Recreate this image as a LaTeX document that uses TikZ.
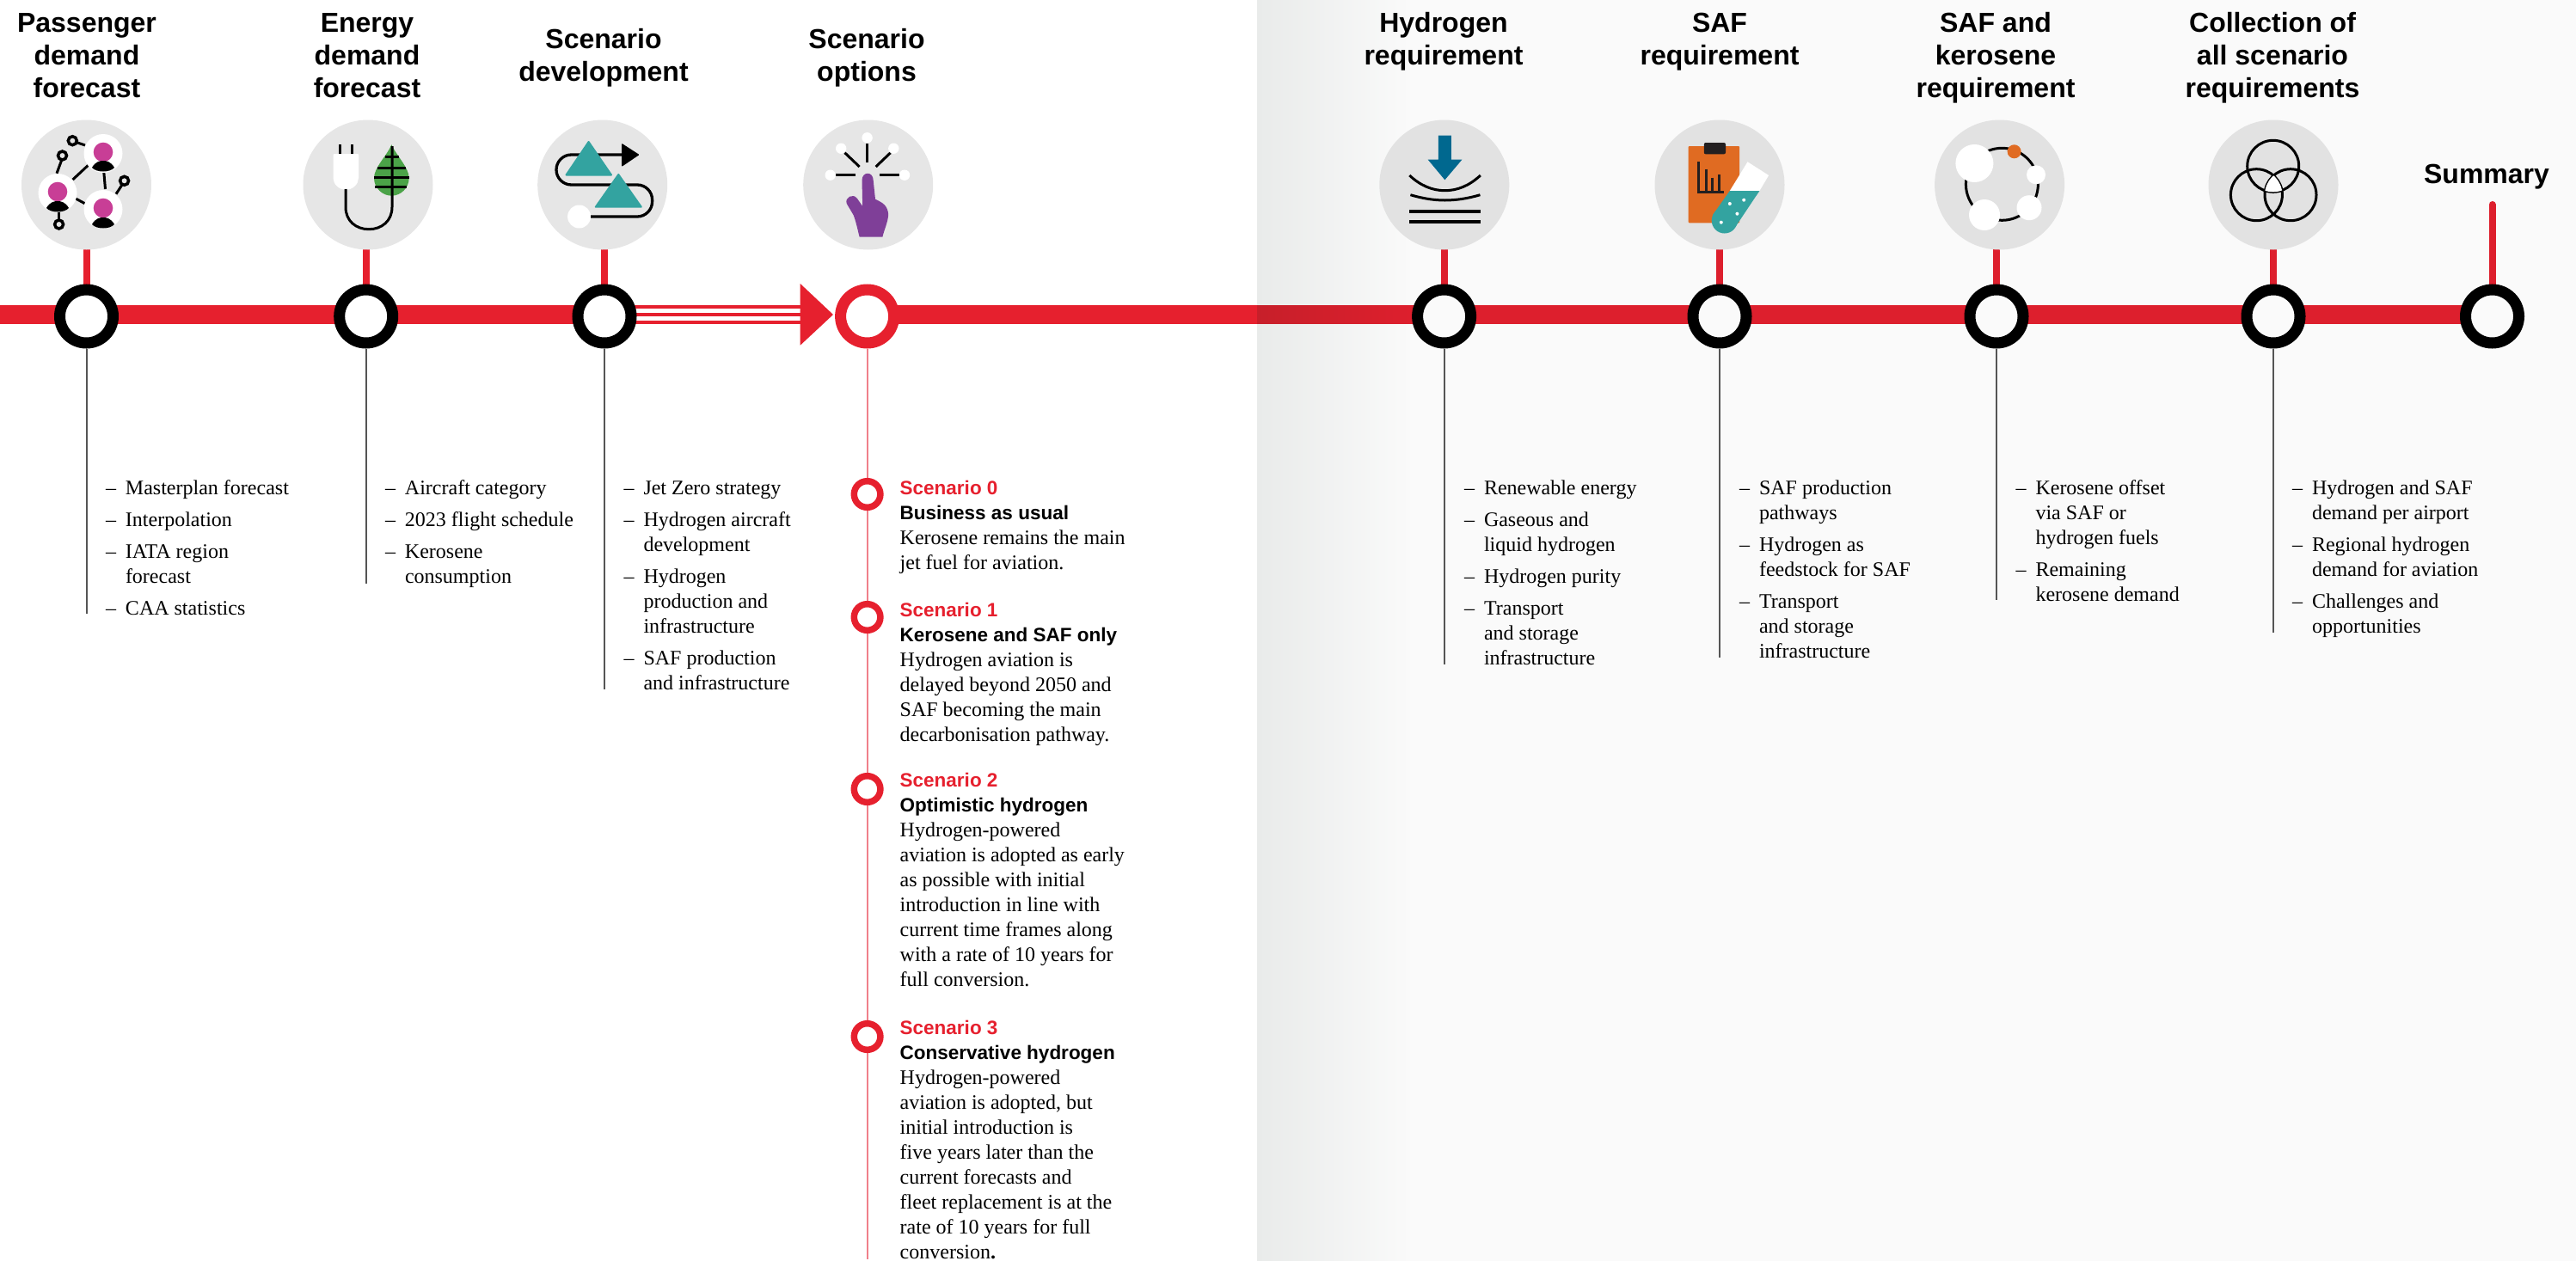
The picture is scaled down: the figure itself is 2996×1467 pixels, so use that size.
\documentclass[tikz,border=0pt]{standalone}
\usepackage{fontspec}
\setmainfont{Liberation Serif}
\setsansfont{Liberation Sans}
\usetikzlibrary{backgrounds}
\definecolor{barred}{HTML}{E6202E}
\definecolor{barredR}{HTML}{DD1F2D}
\definecolor{barredD}{HTML}{C71F2A}
\definecolor{linered}{HTML}{F0808A}
\definecolor{pale}{HTML}{FAFAFA}
\definecolor{paleL}{HTML}{E9EBEA}
\definecolor{iconL}{HTML}{E6E6E6}
\definecolor{iconR}{HTML}{E2E2E2}
\definecolor{pinkp}{HTML}{C83E96}
\definecolor{leafg}{HTML}{4BA348}
\definecolor{tealc}{HTML}{33A3A0}
\definecolor{purp}{HTML}{7F3F98}
\definecolor{bluea}{HTML}{00688F}
\definecolor{orangec}{HTML}{E06B22}
\definecolor{darkc}{HTML}{231F20}
\definecolor{greyl}{HTML}{555555}
\newcommand{\hdfont}{\sffamily\bfseries\fontsize{32}{38}\selectfont}
\newcommand{\bdfont}{\rmfamily\fontsize{24}{29}\selectfont}
\newcommand{\scfont}{\sffamily\bfseries\fontsize{22.5}{29}\selectfont}
\newcommand{\headtext}[1]{\parbox[t]{420pt}{\centering\hdfont #1\par}}
\newcommand{\itm}[1]{\par\hangindent=23pt\hangafter=1\noindent\makebox[23pt][l]{–}#1}
\newcommand{\itemlist}[1]{\parbox[t]{300pt}{\bdfont\setlength{\parskip}{8pt}\raggedright #1\par}}
\newcommand{\scentext}[3]{\parbox[t]{330pt}{\bdfont\raggedright{\scfont\textcolor{barred}{#1}}\newline{\scfont #2}\newline #3\par}}
\newcommand{\person}[3]{% head x, head y, body top y
  \fill[white] (#1,#2+1.5) circle[radius=22.5pt];
  \fill[pinkp] (#1,#2) circle[radius=11.3pt];
  \fill[black] (#1-13,#3+8) .. controls (#1-9,#3+1) and (#1-4,#3) .. (#1,#3)
     .. controls (#1+4,#3) and (#1+9,#3+1) .. (#1+13,#3+8)
     .. controls (#1+8,#3+14) and (#1-8,#3+14) .. cycle;}
\tikzset{
  icon/.style={circle,minimum size=151pt,inner sep=0pt,fill=#1},
  ringk/.style={circle,minimum size=62pt,inner sep=0pt,line width=13pt,draw=black,fill=#1},
  ringr/.style={circle,minimum size=62pt,inner sep=0pt,line width=13pt,draw=barred,fill=white},
  sring/.style={circle,minimum size=30.6pt,inner sep=0pt,line width=7.5pt,draw=barred,fill=white},
  txt/.style={inner sep=0pt,outer sep=0pt,anchor=base west},
  hd/.style={inner sep=0pt,outer sep=0pt,anchor=base},
  stem/.style={line width=8pt,barred},
  stemR/.style={line width=8pt,barredR},
  drop/.style={line width=2pt,greyl},
  icl/.style={line width=3pt,black},
}
\begin{document}
\begin{tikzpicture}[x=1pt,y=-1pt]
\useasboundingbox (0,0) rectangle (2996,1467);
% rings
\node[ringk=white] (r1) at (100.5,368) {};
\node[ringk=white] (r2) at (425.7,368) {};
\node[ringk=white] (r3) at (703,368) {};
\node[ringr] (r4) at (1008.6,368) {};
\node[ringk=pale] (r5) at (1679.6,368) {};
\node[ringk=pale] (r6) at (2000,368) {};
\node[ringk=pale] (r7) at (2322,368) {};
\node[ringk=pale] (r8) at (2644,368) {};
\node[ringk=pale] (r9) at (2898.5,368) {};
% icon discs
\node[icon=iconL] (c1) at (100.5,215) {};
\node[icon=iconL] (c2) at (428,215) {};
\node[icon=iconL] (c3) at (700.7,215) {};
\node[icon=iconL] (c4) at (1009.7,215) {};
\node[icon=iconR] (c5) at (1679.8,215) {};
\node[icon=iconR] (c6) at (2000,215) {};
\node[icon=iconR] (c7) at (2325.6,215) {};
\node[icon=iconR] (c8) at (2644,215) {};
% free ends
\coordinate (barL) at (0,366);
\coordinate (sumtop) at (2898.5,238);
\coordinate (e1) at (100.5,714);
\coordinate (e2) at (425.7,679);
\coordinate (e3) at (703,802);
\coordinate (e4) at (1008.6,1465);
\coordinate (e5) at (1679.6,773);
\coordinate (e6) at (2000,765);
\coordinate (e7) at (2322,698);
\coordinate (e8) at (2644,736);
% scenario rings
\node[sring] (s0) at (1008.6,575) {};
\node[sring] (s1) at (1008.6,718) {};
\node[sring] (s2) at (1008.6,918) {};
\node[sring] (s3) at (1008.6,1206) {};
% arrow
\node[fill=none,inner sep=0pt] (arrowtip) at (969,366) {};
\begin{scope}[on background layer]
  \fill[pale] (1462,0) rectangle (2996,1467);
  \shade[left color=paleL,right color=pale] (1462,0) rectangle (1640,1467);
  \draw[line width=21.7pt,barred] (barL) -- (barL -| r3);
  \draw[line width=21.7pt,barred] (barL -| r4) -- (1462,366);
  \draw[line width=21.7pt,barredR] (1462,366) -- (barL -| r9);
  \shade[left color=barredD,right color=barredR] (1462,355.15) rectangle (1640,376.85);
  \foreach \yy in {356.8,366,375}
    \draw[line width=3.7pt,barred] (703,\yy) -- (935,\yy);
  \draw[stem] (r1) -- (r1 |- c1);
  \draw[stem] (r2) -- (r2 |- c2);
  \draw[stem] (r3) -- (r3 |- c3);
  \draw[stemR] (r5) -- (r5 |- c5);
  \draw[stemR] (r6) -- (r6 |- c6);
  \draw[stemR] (r7) -- (r7 |- c7);
  \draw[stemR] (r8) -- (r8 |- c8);
  \draw[stemR,line cap=round] (r9) -- (sumtop);
  \draw[drop] (r1) -- (e1);
  \draw[drop] (r2) -- (e2);
  \draw[drop] (r3) -- (e3);
  \draw[line width=2.2pt,linered] (r4) -- (e4);
  \draw[drop] (r5) -- (e5);
  \draw[drop] (r6) -- (e6);
  \draw[drop] (r7) -- (e7);
  \draw[drop] (r8) -- (e8);
\end{scope}
\fill[barred] (930.7,330) -- (arrowtip.center) -- (930.7,401.7) -- cycle;
% headings
\node[hd] (h1) at (101,37) {\headtext{Passenger\\demand\\forecast}};
\node[hd] (h2) at (427,37) {\headtext{Energy\\demand\\forecast}};
\node[hd] (h3) at (702,56.5) {\headtext{Scenario\\development}};
\node[hd] (h4) at (1008,56.5) {\headtext{Scenario\\options}};
\node[hd] (h5) at (1679,37) {\headtext{Hydrogen\\requirement}};
\node[hd] (h6) at (2000,37) {\headtext{SAF\\requirement}};
\node[hd] (h7) at (2321,37) {\headtext{SAF and\\kerosene\\requirement}};
\node[hd] (h8) at (2643,37) {\headtext{Collection of\\all scenario\\requirements}};
\node[hd] (h9) at (2892,213.5) {\headtext{Summary}};
% item lists
\node[txt] (l1) at (123,575) {\itemlist{\itm{Masterplan forecast}\itm{Interpolation}\itm{IATA region\newline forecast}\itm{CAA statistics}}};
\node[txt] (l2) at (448,575) {\itemlist{\itm{Aircraft category}\itm{2023 flight schedule}\itm{Kerosene\newline consumption}}};
\node[txt] (l3) at (725.5,575) {\itemlist{\itm{Jet Zero strategy}\itm{Hydrogen aircraft\newline development}\itm{Hydrogen\newline production and\newline infrastructure}\itm{SAF production\newline and infrastructure}}};
\node[txt] (l5) at (1703,575) {\itemlist{\itm{Renewable energy}\itm{Gaseous and\newline liquid hydrogen}\itm{Hydrogen purity}\itm{Transport\newline and storage\newline infrastructure}}};
\node[txt] (l6) at (2023,575) {\itemlist{\itm{SAF production\newline pathways}\itm{Hydrogen as\newline feedstock for SAF}\itm{Transport\newline and storage\newline infrastructure}}};
\node[txt] (l7) at (2344.5,575) {\itemlist{\itm{Kerosene offset\newline via SAF or\newline hydrogen fuels}\itm{Remaining\newline kerosene demand}}};
\node[txt] (l8) at (2666,575) {\itemlist{\itm{Hydrogen and SAF\newline demand per airport}\itm{Regional hydrogen\newline demand for aviation}\itm{Challenges and\newline opportunities}}};
% scenarios
\node[txt] (t0) at (1046.7,575) {\scentext{Scenario 0}{Business as usual}{Kerosene remains the main\newline jet fuel for aviation.}};
\node[txt] (t1) at (1046.7,717) {\scentext{Scenario 1}{Kerosene and SAF only}{Hydrogen aviation is\newline delayed beyond 2050 and\newline SAF becoming the main\newline decarbonisation pathway.}};
\node[txt] (t2) at (1046.7,915) {\scentext{Scenario 2}{Optimistic hydrogen}{Hydrogen-powered\newline aviation is adopted as early\newline as possible with initial\newline introduction in line with\newline current time frames along\newline with a rate of 10 years for\newline full conversion.}};
\node[txt] (t3) at (1046.7,1203.5) {\scentext{Scenario 3}{Conservative hydrogen}{Hydrogen-powered\newline aviation is adopted, but\newline initial introduction is\newline five years later than the\newline current forecasts and\newline fleet replacement is at the\newline rate of 10 years for full\newline conversion\textbf{.}}};
% icon 1: people network
\begin{scope}[line width=3pt,black]
  \draw (66,201.7) -- (71.4,187);
  \draw (84.6,209) -- (102.5,192.3);
  \draw (120.7,199) -- (122.5,220);
  \draw (88,231) -- (98.6,236.7);
  \draw (135,225.7) -- (142,215);
  \draw (99,169) -- (89.3,165.7);
  \draw (68.6,255) -- (68.6,246.7);
  \draw[line width=3.5pt] (72.5,181) circle[radius=5pt];
  \draw[line width=3.5pt] (144.6,210.3) circle[radius=5pt];
  \draw[line width=3.5pt] (84.3,163.7) circle[radius=5pt];
  \draw[line width=3.5pt] (68.6,261) circle[radius=5pt];
\end{scope}
\person{120}{177}{187}
\person{67}{223}{234}
\person{120}{242}{253}
% icon 2: plug and leaf
\draw[line width=3pt] (395.7,168) -- (395.7,180);
\draw[line width=3pt] (409,168) -- (409,180);
\fill[white,rounded corners=1pt] (387.5,179) -- (417,179) -- (417,206) arc[start angle=0,end angle=-180,radius=14.75pt] -- cycle;
\fill[leafg] (455.4,168.3) .. controls (461,181) and (475.7,195) .. (475.7,207) .. controls (475.7,219) and (466,227.7) .. (455.4,227.7) .. controls (445,227.7) and (435,219) .. (435,207) .. controls (435,195) and (450,181) .. (455.4,168.3) -- cycle;
\draw[line width=3pt] (402,220) -- (402,241) .. controls (402,257) and (414,266.7) .. (429,266.7) .. controls (444,266.7) and (456,257) .. (456,241) -- (456,170);
\foreach \ya/\xa/\xb in {182/448/464,195/438.6/472,206/435/475.7,217/436.4/473}
  \draw[line width=3pt] (\xa,\ya) -- (\xb,\ya);
% icon 3: route
\fill[white] (673.6,252) circle[radius=13.5pt];
\draw[line width=3.3pt,rounded corners=17.5pt] (687,252) -- (758.6,252) -- (758.6,215) -- (647,215) -- (647,180) -- (725,180);
\fill[black,rounded corners=1pt] (723,166.7) -- (743.6,180) -- (723,194) -- cycle;
\fill[tealc,draw=tealc,line width=2pt,line join=round] (684.6,165) -- (658.5,203.5) -- (711,203.5) -- cycle;
\fill[tealc,draw=tealc,line width=2pt,line join=round] (719.3,203) -- (692.8,240.7) -- (745.8,240.7) -- cycle;
% icon 4: hand
\foreach \ax/\ay/\bx/\by in {1008.6/166.7/1008.6/189.3,982.5/177.7/999.6/194,1035.7/177.7/1018.6/194,972/203.7/995.4/203.7,1022.9/203.7/1046/203.7}
  \draw[line width=3pt] (\ax,\ay) -- (\bx,\by);
\foreach \dx/\dy in {1008.6/160.3,978.2/172.7,1039.3/172.7,965.7/203.7,1052/203.7}
  \fill[white] (\dx,\dy) circle[radius=6.2pt];
\fill[purp] (1002.5,210) .. controls (1002.5,199) and (1015.7,199) .. (1015.7,210) -- (1018,231.7) .. controls (1027,236) and (1032,239) .. (1033.2,249) .. controls (1033,258) and (1028,268) .. (1026.4,275.7) -- (999.6,275.7) .. controls (997,265) and (995,256) .. (992.5,250) -- (984.8,237) .. controls (982,230) and (992,224) .. (997,231) -- (1003.2,240) -- cycle;
% icon 5: hydrogen arrow
\fill[bluea] (1672.9,157.7) -- (1687.9,157.7) -- (1687.9,185.7) -- (1700.4,185.7) -- (1680.4,209.3) -- (1660.7,185.7) -- (1672.9,185.7) -- cycle;
\draw[line width=3pt] (1639.3,204) .. controls (1652,216) and (1666,221.7) .. (1680.4,221.7) .. controls (1695,221.7) and (1709,216) .. (1721.8,204);
\draw[line width=3pt] (1640.4,226.7) .. controls (1655,231) and (1668,233) .. (1680.4,233) .. controls (1693,233) and (1707,231) .. (1721.4,226.7);
\draw[line width=4pt] (1639.3,245.7) -- (1721.8,245.7);
\draw[line width=4pt] (1639.3,257.7) -- (1721.8,257.7);
% icon 6: clipboard and tube
\fill[orangec,rounded corners=1pt] (1963.6,170) rectangle (2023.2,259.3);
\fill[darkc,rounded corners=2pt] (1981.8,166) rectangle (2007,179.3);
\draw[darkc,line width=3pt] (1975.4,188.3) -- (1975.4,223.3) -- (2005.4,223.3);
\draw[darkc,line width=3pt] (1984.3,196.7) -- (1984.3,223.3);
\draw[darkc,line width=3pt] (1991.4,206.7) -- (1991.4,223.3);
\draw[darkc,line width=3pt] (1999.3,203.3) -- (1999.3,223.3);
\fill[white] (2032.5,188.3) -- (2057.1,204) -- (2046.4,222) -- (2011.8,222) -- cycle;
\fill[tealc] (2011.8,222) -- (2046.4,222) -- (2019,263) -- (1992,250) -- cycle;
\fill[tealc] (2005.7,256.5) circle[radius=15pt];
\foreach \dx/\dy in {2011.8/237,2028.2/232.7,2020.4/248.7,2001.8/258.7}
  \fill[white] (\dx,\dy) circle[radius=2pt];
% icon 7: ring of dots
\draw[line width=3pt] (2328.4,214.3) circle[radius=42pt];
\fill[white] (2296.4,190) circle[radius=22pt];
\fill[white] (2368,203.3) circle[radius=11pt];
\fill[white] (2360,241.7) circle[radius=14.5pt];
\fill[white] (2308,250) circle[radius=18pt];
\fill[orangec] (2342.6,176.3) circle[radius=8pt];
% icon 8: venn
\draw[line width=3pt] (2643.7,193.3) circle[radius=30pt];
\draw[line width=3pt] (2624.4,226.7) circle[radius=30pt];
\draw[line width=3pt] (2664,226.7) circle[radius=30pt];
\begin{scope}
  \clip (2643.7,193.3) circle[radius=30pt];
  \clip (2624.4,226.7) circle[radius=30pt];
  \fill[white] (2664,226.7) circle[radius=30pt];
\end{scope}
\end{tikzpicture}
\end{document}
